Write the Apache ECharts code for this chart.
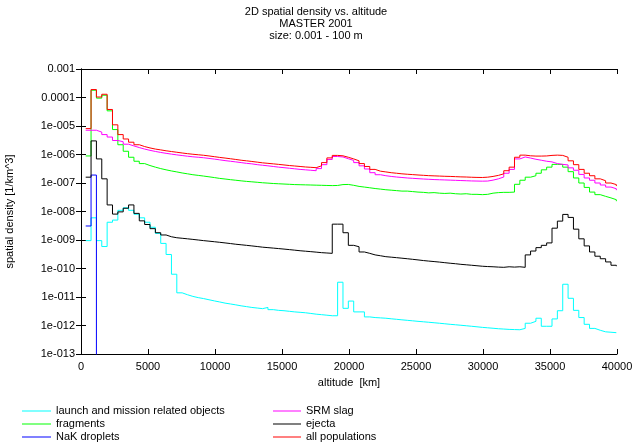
<!DOCTYPE html>
<html>
<head>
<meta charset="utf-8">
<script src="https://cdn.jsdelivr.net/npm/echarts@6/dist/echarts.min.js"></script>
<style>html,body{margin:0;padding:0;background:#fff}#c{width:632px;height:445px}</style>
</head>
<body>
<div id="c"></div>
<script>
const altitudeKm = [350,750,1150,1550,1950,2350,2750,3150,3550,3950,4350,4750,5150,5550,5950,6350,6750,7150,7550,7950,8350,8750,9150,9550,9950,10350,10750,11150,11550,11950,12350,12750,13150,13550,13950,14350,14750,15150,15550,15950,16350,16750,17150,17550,17950,18350,18750,19150,19550,19950,20350,20750,21150,21550,21950,22350,22750,23150,23550,23950,24350,24750,25150,25550,25950,26350,26750,27150,27550,27950,28350,28750,29150,29550,29950,30350,30750,31150,31550,31950,32350,32750,33150,33550,33950,34350,34750,35150,35550,35950,36350,36750,37150,37550,37950,38350,38750,39150,39550,39950];

const launchMission = [9.5e-10,6.0e-9,9.5e-10,5.9e-10,4.2e-9,5.0e-9,1.1e-8,1.35e-8,1.1e-8,8.0e-9,6.0e-9,4.2e-9,2.8e-9,1.7e-9,7.6e-10,3.1e-10,6.3e-11,1.4e-11,1.2e-11,1.05e-11,9.5e-12,8.8e-12,8.0e-12,7.3e-12,6.7e-12,6.1e-12,5.7e-12,5.3e-12,4.9e-12,4.6e-12,4.3e-12,4.1e-12,3.9e-12,4.3e-12,3.6e-12,3.4e-12,3.3e-12,3.15e-12,3.0e-12,2.9e-12,2.8e-12,2.65e-12,2.5e-12,2.4e-12,2.3e-12,2.2e-12,2.2e-12,3.3e-11,4.0e-12,7.2e-12,3.0e-12,3.0e-12,2.0e-12,1.9e-12,1.85e-12,1.8e-12,1.72e-12,1.65e-12,1.58e-12,1.52e-12,1.46e-12,1.4e-12,1.35e-12,1.3e-12,1.25e-12,1.2e-12,1.15e-12,1.1e-12,1.06e-12,1.02e-12,9.8e-13,9.4e-13,9.0e-13,8.6e-13,8.3e-13,8.0e-13,7.7e-13,7.5e-13,7.3e-13,7.2e-13,7.1e-13,7.9e-13,1.2e-12,1.4e-12,1.8e-12,9.4e-13,9.4e-13,1.7e-12,3.3e-12,2.8e-11,9.0e-12,3.4e-12,1.9e-12,1.1e-12,7.9e-13,6.8e-13,6.0e-13,5.8e-13,5.6e-13,5.5e-13];

const fragments = [8.9e-7,1.8e-4,9.5e-5,1.2e-4,3.4e-5,7.5e-6,2.2e-6,1.3e-6,8.0e-7,5.8e-7,4.8e-7,4.1e-7,3.6e-7,3.2e-7,2.9e-7,2.65e-7,2.45e-7,2.25e-7,2.1e-7,1.95e-7,1.85e-7,1.75e-7,1.65e-7,1.55e-7,1.45e-7,1.38e-7,1.31e-7,1.25e-7,1.19e-7,1.14e-7,1.10e-7,1.06e-7,1.02e-7,9.9e-8,9.6e-8,9.4e-8,9.2e-8,9.0e-8,8.8e-8,8.7e-8,8.6e-8,8.5e-8,8.4e-8,8.3e-8,8.2e-8,8.1e-8,8.2e-8,8.8e-8,8.9e-8,8.3e-8,7.6e-8,7.2e-8,6.8e-8,6.4e-8,6.1e-8,5.8e-8,5.6e-8,5.4e-8,5.2e-8,5.2e-8,5.0e-8,4.8e-8,4.7e-8,4.5e-8,4.6e-8,4.4e-8,4.3e-8,4.4e-8,4.2e-8,4.1e-8,4.2e-8,4.0e-8,4.0e-8,3.9e-8,4.0e-8,4.4e-8,4.6e-8,4.7e-8,4.7e-8,4.8e-8,9.0e-8,1.25e-7,1.6e-7,1.8e-7,2.2e-7,2.9e-7,3.6e-7,4.5e-7,4.5e-7,3.6e-7,2.5e-7,1.5e-7,1.0e-7,7.0e-8,4.8e-8,3.9e-8,3.4e-8,3.0e-8,2.6e-8,2.3e-8];

const nakDroplets = [3.1e-9,1.9e-7,1e-20];

const srmSlag = [7.1e-6,7.1e-6,6.1e-6,5.0e-6,4.1e-6,3.1e-6,2.8e-6,2.3e-6,2.0e-6,1.75e-6,1.55e-6,1.4e-6,1.28e-6,1.18e-6,1.1e-6,1.03e-6,9.7e-7,9.2e-7,8.7e-7,8.3e-7,8.0e-7,7.7e-7,7.3e-7,6.9e-7,6.5e-7,6.1e-7,5.8e-7,5.5e-7,5.2e-7,4.9e-7,4.7e-7,4.4e-7,4.2e-7,4.0e-7,3.8e-7,3.6e-7,3.45e-7,3.3e-7,3.15e-7,3.0e-7,2.9e-7,2.8e-7,2.7e-7,3.2e-7,4.4e-7,6.7e-7,8.5e-7,8.2e-7,7.1e-7,6.2e-7,5.2e-7,4.0e-7,3.1e-7,2.3e-7,1.95e-7,1.8e-7,1.7e-7,1.62e-7,1.56e-7,1.5e-7,1.46e-7,1.42e-7,1.38e-7,1.35e-7,1.32e-7,1.3e-7,1.28e-7,1.26e-7,1.24e-7,1.22e-7,1.2e-7,1.18e-7,1.17e-7,1.16e-7,1.17e-7,1.26e-7,1.4e-7,1.62e-7,2.2e-7,3.0e-7,7.0e-7,8.2e-7,7.5e-7,6.8e-7,6.3e-7,5.8e-7,5.5e-7,4.8e-7,4.5e-7,4.3e-7,3.4e-7,2.8e-7,2.0e-7,1.5e-7,1.25e-7,1.0e-7,8.5e-8,7.2e-8,6.3e-8,5.6e-8];

const ejecta = [1.6e-7,3.0e-6,7.0e-7,1.4e-7,1.7e-8,8.1e-9,9.7e-9,1.3e-8,1.7e-8,8.6e-9,4.7e-9,3.5e-9,2.5e-9,1.8e-9,1.5e-9,1.3e-9,1.2e-9,1.15e-9,1.1e-9,1.05e-9,1.0e-9,9.5e-10,9.1e-10,8.7e-10,8.3e-10,7.9e-10,7.5e-10,7.1e-10,6.8e-10,6.5e-10,6.2e-10,5.9e-10,5.6e-10,5.4e-10,5.2e-10,5.0e-10,4.8e-10,4.6e-10,4.4e-10,4.2e-10,4.05e-10,3.9e-10,3.75e-10,3.6e-10,3.5e-10,3.4e-10,3.6e-9,3.6e-9,1.8e-9,6.5e-10,5.8e-10,3.8e-10,3.4e-10,3.0e-10,2.8e-10,2.6e-10,2.5e-10,2.4e-10,2.3e-10,2.2e-10,2.1e-10,2.0e-10,1.9e-10,1.82e-10,1.75e-10,1.68e-10,1.6e-10,1.53e-10,1.47e-10,1.4e-10,1.35e-10,1.3e-10,1.25e-10,1.2e-10,1.17e-10,1.15e-10,1.12e-10,1.1e-10,1.15e-10,1.12e-10,1.15e-10,1.1e-10,3.0e-10,4.1e-10,5.4e-10,6.5e-10,7.9e-10,2.6e-9,4.6e-9,7.9e-9,6.2e-9,2.4e-9,1.1e-9,6.2e-10,3.8e-10,2.7e-10,2.2e-10,1.7e-10,1.3e-10,1.2e-10];

const allPopulations = [8.1e-6,1.9e-4,1.04e-4,1.3e-4,3.8e-5,1.1e-5,5.0e-6,3.5e-6,2.7e-6,2.2e-6,1.9e-6,1.7e-6,1.55e-6,1.45e-6,1.35e-6,1.27e-6,1.2e-6,1.13e-6,1.07e-6,1.02e-6,9.8e-7,9.4e-7,8.9e-7,8.4e-7,7.9e-7,7.5e-7,7.1e-7,6.7e-7,6.3e-7,6.0e-7,5.7e-7,5.4e-7,5.1e-7,4.9e-7,4.7e-7,4.5e-7,4.3e-7,4.1e-7,3.95e-7,3.8e-7,3.65e-7,3.55e-7,3.45e-7,4.0e-7,5.2e-7,7.6e-7,9.3e-7,9.0e-7,8.0e-7,7.0e-7,6.0e-7,4.8e-7,3.8e-7,3.0e-7,2.6e-7,2.45e-7,2.3e-7,2.2e-7,2.1e-7,2.03e-7,1.97e-7,1.91e-7,1.86e-7,1.81e-7,1.78e-7,1.75e-7,1.72e-7,1.7e-7,1.67e-7,1.64e-7,1.62e-7,1.59e-7,1.57e-7,1.56e-7,1.6e-7,1.7e-7,1.85e-7,2.1e-7,2.7e-7,3.6e-7,8.0e-7,9.5e-7,9.0e-7,8.8e-7,8.8e-7,8.9e-7,9.3e-7,9.5e-7,9.3e-7,8.0e-7,6.0e-7,4.4e-7,3.0e-7,2.2e-7,1.8e-7,1.4e-7,1.2e-7,1.0e-7,8.8e-8,7.8e-8];

const seriesNames = ['launch and mission related objects','fragments','NaK droplets','SRM slag','ejecta','all populations'];
const seriesColors = ['#00ffff','#00ff00','#0000ff','#ff00ff','#000000','#ff0000'];
const yTickLabels = ['1e-013','1e-012','1e-011','1e-010','1e-009','1e-008','1e-007','1e-006','1e-005','0.0001','0.001'];
const xTickLabels = ['0','5000','10000','15000','20000','25000','30000','35000','40000'];

const FONT = "'Liberation Sans', Arial, sans-serif";
const chart = echarts.init(document.getElementById('c'), null, {renderer: 'canvas'});

function pairs(vals) {
  return vals.map((v, i) => [altitudeKm[i], v]);
}
const allValues = [launchMission, fragments, nakDroplets, srmSlag, ejecta, allPopulations];

function yLabel(v) {
  const e = Math.round(Math.log10(v));
  return yTickLabels[e + 13] || '';
}
function xLabel(v) {
  return xTickLabels[Math.round(v / 5000)] || '';
}

const axisLine = {show: true, lineStyle: {color: '#000', width: 1}};
const tick = {show: true, inside: true, length: 5, lineStyle: {color: '#000', width: 1}};
const legendText = {fontSize: 11, lineHeight: 13, color: '#000', fontFamily: FONT};

chart.setOption({
  animation: false,
  backgroundColor: '#fff',
  textStyle: {fontFamily: FONT},
  title: {
    text: '2D spatial density vs. altitude\nMASTER 2001\nsize: 0.001 - 100 m',
    left: 'center',
    top: 1,
    textStyle: {fontSize: 11, lineHeight: 12, fontWeight: 'normal', color: '#000', fontFamily: FONT}
  },
  grid: {left: 81, right: 15, top: 69, bottom: 91, containLabel: false, outerBoundsMode: 'none'},
  legend: [
    {
      orient: 'vertical', left: 22, top: 404.5, itemWidth: 29, itemHeight: 1, itemGap: 0,
      icon: 'rect', data: seriesNames.slice(0, 3), selectedMode: false, padding: 0,
      textStyle: legendText
    },
    {
      orient: 'vertical', left: 273, top: 404.5, itemWidth: 28, itemHeight: 1, itemGap: 0,
      icon: 'rect', data: seriesNames.slice(3), selectedMode: false, padding: 0,
      textStyle: legendText
    }
  ],
  xAxis: [
    {
      type: 'value', min: 0, max: 40000, interval: 5000, position: 'bottom',
      name: 'altitude  [km]', nameLocation: 'middle', nameGap: 23,
      nameTextStyle: {fontSize: 11, color: '#000', fontFamily: FONT},
      axisLine: axisLine, axisTick: tick, splitLine: {show: false},
      axisLabel: {fontSize: 11, color: '#000', margin: 7, formatter: xLabel, fontFamily: FONT}
    },
    {
      type: 'value', min: 0, max: 40000, interval: 5000, position: 'top',
      axisLine: axisLine, axisTick: tick, splitLine: {show: false}, axisLabel: {show: false}
    }
  ],
  yAxis: [
    {
      type: 'log', logBase: 10, min: 1e-13, max: 1e-3, interval: 1, splitNumber: 10, position: 'left',
      name: 'spatial density [1/km^3]', nameLocation: 'middle', nameGap: 66, nameRotate: 90,
      nameTextStyle: {fontSize: 11, color: '#000', fontFamily: FONT},
      axisLine: axisLine, axisTick: tick, splitLine: {show: false}, minorTick: {show: false},
      axisLabel: {fontSize: 11, color: '#000', margin: 6, formatter: yLabel, fontFamily: FONT}
    },
    {
      type: 'log', logBase: 10, min: 1e-13, max: 1e-3, interval: 1, splitNumber: 10, position: 'right',
      axisLine: axisLine, axisTick: tick, splitLine: {show: false}, axisLabel: {show: false}
    }
  ],
  series: allValues.map((vals, k) => ({
    name: seriesNames[k],
    type: 'line',
    step: 'end',
    xAxisIndex: 0,
    yAxisIndex: 0,
    data: pairs(vals),
    symbol: 'none',
    showSymbol: false,
    clip: true,
    color: seriesColors[k],
    lineStyle: {width: 1, color: seriesColors[k]},
    emphasis: {disabled: true},
    z: 2 + k
  }))
});
</script>
</body>
</html>
